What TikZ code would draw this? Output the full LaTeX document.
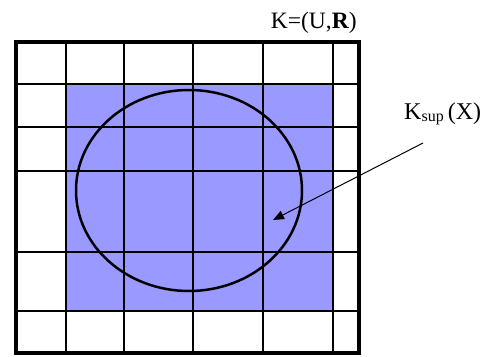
\documentclass[tikz,border=0pt]{standalone}
\usepackage{fontspec}
\setmainfont{Liberation Serif}
\usetikzlibrary{arrows.meta}
\definecolor{supblue}{RGB}{153,153,255}
\tikzset{
  gridline/.style={line width=1.2pt, black},
  outerbox/.style={line width=3.5pt, black},
  setcurve/.style={line width=2.5pt, black},
  pointer/.style={line width=1pt, black, -{Triangle[length=11pt,width=9pt]}},
  lbl/.style={inner sep=0pt, font=\fontsize{23.5}{28}\selectfont}
}
\begin{document}
\begin{tikzpicture}[x=1pt,y=-1pt]
\useasboundingbox (0,0) rectangle (492,356);
% blue approximated region
\fill[supblue] (66,84) rectangle (333,311);
% grid
\foreach \x in {66,124,193,263,333} \draw[gridline] (\x,42) -- (\x,353);
\foreach \y in {84,127,171,252,311} \draw[gridline] (16,\y) -- (359,\y);
% outer border
\draw[outerbox] (16,42) rectangle (359,353);
% set X
\draw[setcurve] (189,190.5) ellipse [x radius=113, y radius=100.5];
% labels
\node[lbl, anchor=base east] (K) at (357,28) {K=(U,\textbf{R})};
\node[lbl, anchor=base west, font=\fontsize{24}{28}\selectfont] (Ksup) at (404,119) {K\raisebox{-0.25ex}{\fontsize{16}{18}\selectfont sup}\,(X)};
\coordinate (arrowstart) at (423,143);
\coordinate (arrowtip) at (273,220);
\draw[pointer] (arrowstart) -- (arrowtip);
\end{tikzpicture}
\end{document}
